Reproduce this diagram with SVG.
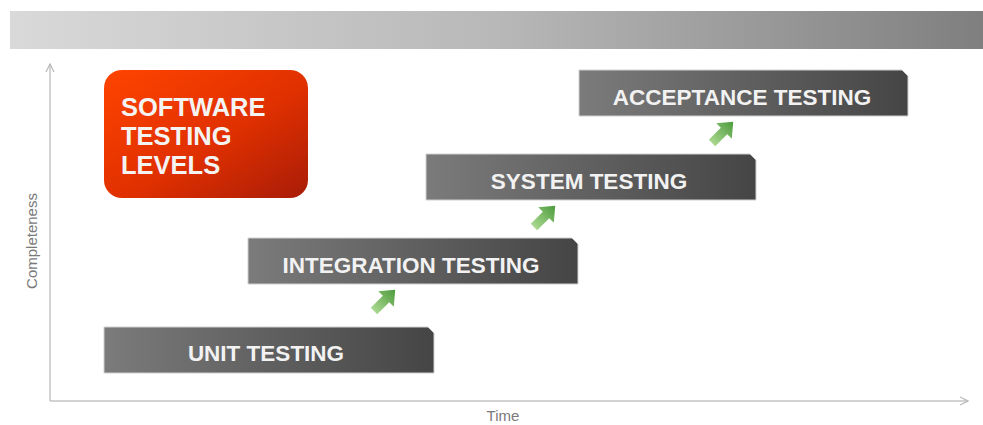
<svg xmlns="http://www.w3.org/2000/svg" width="983" height="425" viewBox="0 0 983 425">
<defs>
<linearGradient id="banner" x1="0" y1="0" x2="1" y2="0">
<stop offset="0" stop-color="#d9d9d9"/>
<stop offset="0.5" stop-color="#b8b8b8"/>
<stop offset="1" stop-color="#7f7f7f"/>
</linearGradient>
<linearGradient id="orange" x1="0" y1="0" x2="1" y2="1">
<stop offset="0" stop-color="#ff4400"/>
<stop offset="0.55" stop-color="#e03000"/>
<stop offset="1" stop-color="#a81c08"/>
</linearGradient>
<linearGradient id="gray" x1="0" y1="0" x2="1" y2="0">
<stop offset="0" stop-color="#7b7b7b"/>
<stop offset="1" stop-color="#454545"/>
</linearGradient>
<linearGradient id="green" x1="0" y1="0" x2="1" y2="0">
<stop offset="0" stop-color="#a9d88f"/>
<stop offset="1" stop-color="#4c9a3c"/>
</linearGradient>
<marker id="ax" markerWidth="10" markerHeight="10" refX="9" refY="5" orient="auto" markerUnits="userSpaceOnUse">
<path d="M1,1 L9,5 L1,9" fill="none" stroke="#b8b8b8" stroke-width="1.2"/>
</marker>
<path id="grn" d="M0,-4.5 L17,-4.5 L17,-11 L30,0 L17,11 L17,4.5 L0,4.5 Z"/>
</defs>
<style>
.lvl { fill: url(#gray); stroke: #d0d0d0; stroke-width: 1; }
.lt { font-family: "Liberation Sans", Arial, sans-serif; font-weight: bold; font-size: 22.5px; fill: #f2f2f2; text-anchor: middle; }
.axis { stroke: #c4c4c4; stroke-width: 1.5; fill: none; }
.axl { font-family: "Liberation Sans", Arial, sans-serif; font-size: 15px; fill: #7a7a7a; }
.arr { fill: url(#green); }
</style>
<rect x="10" y="11" width="973" height="38" fill="url(#banner)"/>
<g id="axes">
<line class="axis" x1="50" y1="401" x2="50" y2="64" marker-end="url(#ax)"/>
<line class="axis" x1="50" y1="401" x2="968" y2="401" marker-end="url(#ax)"/>
<text class="axl" x="503" y="421" text-anchor="middle">Time</text>
<text class="axl" x="0" y="0" text-anchor="middle" transform="translate(37,241) rotate(-90)">Completeness</text>
</g>
<g id="title">
<rect x="104" y="70" width="204" height="128" rx="18" fill="url(#orange)"/>
<text font-family="Liberation Sans, Arial, sans-serif" font-weight="bold" font-size="25.5" fill="#f4f4f4">
<tspan x="121" y="116">SOFTWARE</tspan>
<tspan x="121" y="145">TESTING</tspan>
<tspan x="121" y="174">LEVELS</tspan>
</text>
</g>
<g id="unit">
<path class="lvl" d="M104,327 H428 L434,333 V373 H104 Z"/>
<text class="lt" x="266" y="361">UNIT TESTING</text>
</g>
<g id="integration">
<path class="lvl" d="M248,238 H572 L578,244 V284 H248 Z"/>
<text class="lt" x="411" y="273">INTEGRATION TESTING</text>
</g>
<g id="system">
<path class="lvl" d="M426,154 H750 L756,160 V200 H426 Z"/>
<text class="lt" x="589" y="189">SYSTEM TESTING</text>
</g>
<g id="acceptance">
<path class="lvl" d="M579,70 H902 L908,76 V116 H579 Z"/>
<text class="lt" x="742" y="105">ACCEPTANCE TESTING</text>
</g>
<g id="connectors">
<use href="#grn" class="arr" transform="translate(374,311) rotate(-45)"/>
<use href="#grn" class="arr" transform="translate(534,227) rotate(-45)"/>
<use href="#grn" class="arr" transform="translate(712,143) rotate(-45)"/>
</g>
</svg>
